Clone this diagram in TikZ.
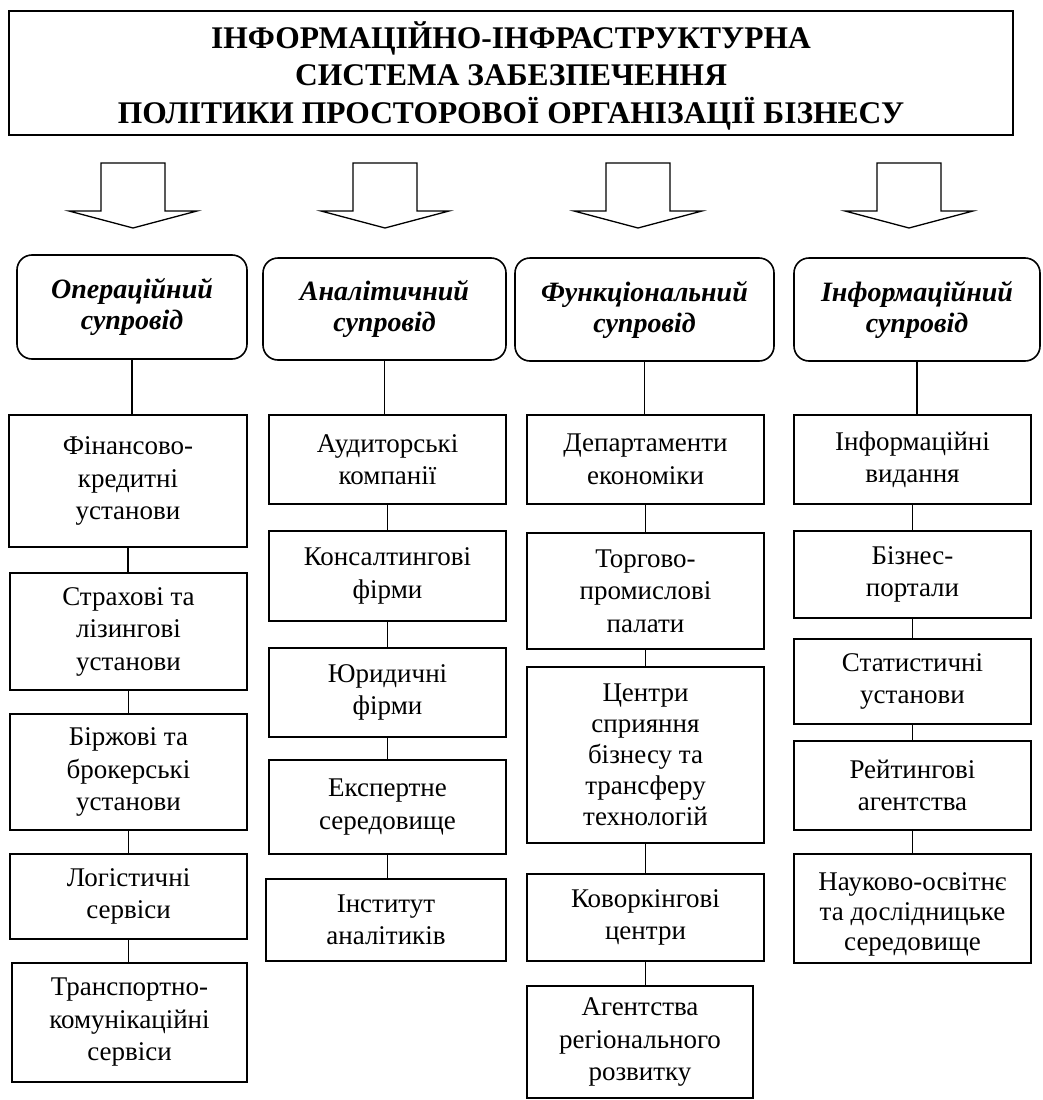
\documentclass[tikz,border=0pt]{standalone}
\usepackage{fontspec}
\setmainfont{Liberation Serif}
\usepackage{tikz}
\usetikzlibrary{calc}

\tikzset{
  titlebox/.style={draw, line width=1.8pt, align=center, inner sep=0pt,
    font=\fontsize{31.5}{37.5}\selectfont\bfseries},
  headbox/.style={draw, line width=1.6pt, rounded corners=15pt, align=center, inner sep=0pt,
    font=\fontsize{28}{31}\selectfont\bfseries\itshape},
  itembox/.style={draw, line width=1.5pt, align=center, inner sep=0pt,
    font=\fontsize{27}{32.5}\selectfont},
  link/.style={line width=1.5pt},
  blockarrow/.style={draw, line width=1.3pt, line join=miter},
}

\begin{document}
\begin{tikzpicture}[x=1pt, y=-1pt]
\useasboundingbox (0,0) rectangle (1042,1100);
% Title
\node[titlebox, minimum width=1004pt, minimum height=124pt] (title) at (511,73)
  {\rule{0pt}{32pt}ІНФОРМАЦІЙНО-ІНФРАСТРУКТУРНА\\СИСТЕМА ЗАБЕЗПЕЧЕННЯ\\ПОЛІТИКИ ПРОСТОРОВОЇ ОРГАНІЗАЦІЇ БІЗНЕСУ};
% Draw four block arrows
\foreach \cx in {133,385,638,909} {
    \draw[blockarrow] (\cx-32,163) -- (\cx+32,163) -- (\cx+32,211) -- (\cx+64,211)
      -- (\cx,228) -- (\cx-64,211) -- (\cx-32,211) -- cycle;
}
% Headers
\node[headbox, minimum width=230pt, minimum height=104pt] (oper) at (132,307) {Операційний\\супровід};
\node[headbox, minimum width=243pt, minimum height=102pt] (anal) at (384.5,309) {Аналітичний\\супровід};
\node[headbox, minimum width=259pt, minimum height=103pt] (func) at (644.5,309.5) {Функціональний\\супровід};
\node[headbox, minimum width=246pt, minimum height=103pt] (info) at (917,309.5) {Інформаційний\\супровід};
% Column 1
\node[itembox, minimum width=238pt, minimum height=132pt] (fin) at (128,481) {Фінансово-\\кредитні\\установи};
\node[itembox, minimum width=237pt, minimum height=117pt] (strakh) at (128.5,631.5) {Страхові та\\лізингові\\установи};
\node[itembox, minimum width=237pt, minimum height=116pt] (birzh) at (128.5,772) {Біржові та\\брокерські\\установи};
\node[itembox, minimum width=237pt, minimum height=85pt] (logist) at (128.5,896.5) {Логістичні\\сервіси};
\node[itembox, minimum width=235pt, minimum height=119pt] (transp) at (129.5,1022.5) {Транспортно-\\комунікаційні\\сервіси};
% Column 2
\node[itembox, minimum width=237pt, minimum height=89pt] (audit) at (387.5,459.5) {Аудиторські\\компанії};
\node[itembox, minimum width=237pt, minimum height=90pt] (consult) at (387.5,576) {Консалтингові\\фірми};
\node[itembox, minimum width=237pt, minimum height=89pt] (jur) at (387.5,692.5) {Юридичні\\фірми};
\node[itembox, minimum width=237pt, minimum height=94pt] (expert) at (387.5,807) {Експертне\\середовище};
\node[itembox, minimum width=240pt, minimum height=82pt] (inst) at (386,920) {Інститут\\аналітиків};
% Column 3
\node[itembox, minimum width=237pt, minimum height=89pt] (dept) at (645.5,459.5) {Департаменти\\економіки};
\node[itembox, minimum width=237pt, minimum height=116pt] (torg) at (645.5,591) {Торгово-\\промислові\\палати};
\node[itembox, minimum width=237pt, minimum height=176pt, font=\fontsize{27}{31}\selectfont] (centr) at (645.5,755) {Центри\\сприяння\\бізнесу та\\трансферу\\технологій};
\node[itembox, minimum width=237pt, minimum height=87pt] (cowork) at (645.5,917.5) {Коворкінгові\\центри};
\node[itembox, minimum width=226pt, minimum height=112pt] (agency) at (640,1042) {Агентства\\регіонального\\розвитку};
% Column 4
\node[itembox, minimum width=237pt, minimum height=89pt] (press) at (912.5,459.5) {Інформаційні\\видання};
\node[itembox, minimum width=237pt, minimum height=87pt] (portal) at (912.5,574.5) {Бізнес-\\портали};
\node[itembox, minimum width=237pt, minimum height=85pt] (stat) at (912.5,681.5) {Статистичні\\установи};
\node[itembox, minimum width=237pt, minimum height=89pt] (rating) at (912.5,785.5) {Рейтингові\\агентства};
\node[itembox, minimum width=237pt, minimum height=109pt, font=\fontsize{27}{30}\selectfont] (science) at (912.5,908.5) {\rule{0pt}{30pt}Науково-освітнє\\та дослідницьке\\середовище};
% Vertical links
\foreach \a/\b in {oper/fin, fin/strakh, strakh/birzh, birzh/logist, logist/transp,
    anal/audit, audit/consult, consult/jur, jur/expert, expert/inst,
    func/dept, dept/torg, torg/centr, centr/cowork, cowork/agency,
    info/press, press/portal, portal/stat, stat/rating, rating/science} {
    \draw[link] (\a.south) -- (\a.south |- \b.north);
}
\end{tikzpicture}
\end{document}
